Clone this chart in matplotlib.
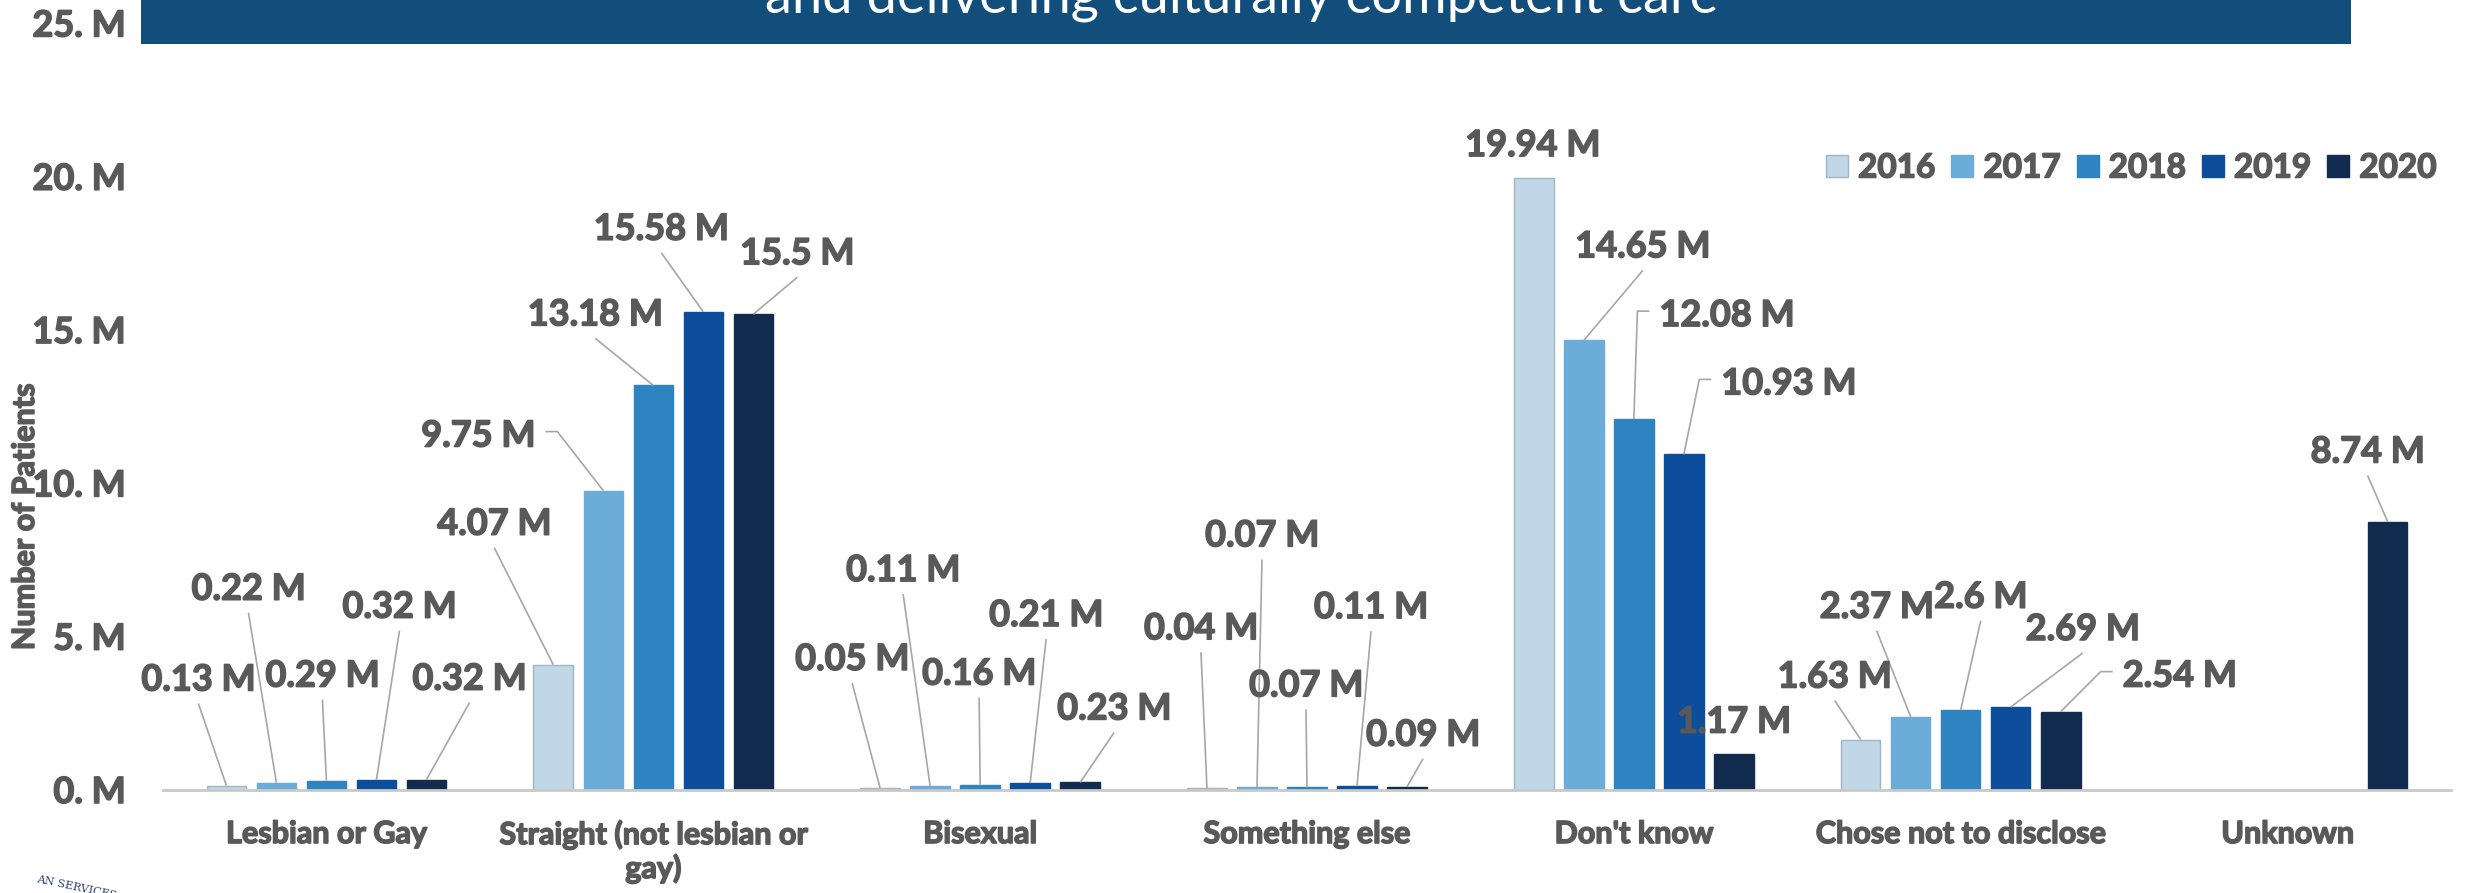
import numpy as np
import matplotlib
matplotlib.use('Agg')
import matplotlib.pyplot as plt
import matplotlib.patheffects as pe
from matplotlib.patches import Rectangle

plt.rcParams['font.family'] = ['Lato', 'DejaVu Sans']

categories = ['Lesbian or Gay', 'Straight (not lesbian or\ngay)', 'Bisexual',
              'Something else', "Don't know", 'Chose not to disclose', 'Unknown']
years = ['2016', '2017', '2018', '2019', '2020']

# millions of patients per year (None = no bar / no label)
v2016 = [0.13, 4.07, 0.05, 0.04, 19.94, 1.63, None]
v2017 = [0.22, 9.75, 0.11, 0.07, 14.65, 2.37, None]
v2018 = [0.29, 13.18, 0.16, 0.07, 12.08, 2.6, None]
v2019 = [0.32, 15.58, 0.21, 0.11, 10.93, 2.69, None]
v2020 = [0.32, 15.5, 0.23, 0.09, 1.17, 2.54, 8.74]

yticks = [0, 5, 10, 15, 20, 25]
ytick_labels = ['0. M', '5. M', '10. M', '15. M', '20. M', '25. M']

banner_text = 'and delivering culturally competent care'

# where each data label sits, pixels from the top of its bar
off2016 = [(-28, 108), (-59, 143), (-28, 131), (-6, 162), (-1, 35), (-26, 65), None]
off2017 = [(-28, 196), (-125, 57), (-27, 218), (5, 254), (59, 96), (-34, 112), None]
off2018 = [(-4, 107), (-58, 73), (-1, 113), (-1, 104), (93, 106), (20, 115), None]
off2019 = [(23, 175), (-42, 85), (16, 170), (14, 181), (105, 73), (72, 80), None]
off2020 = [(43, 103), (44, 63), (34, 76), (16, 54), (0, 34), (119, 38), (-20, 72)]

series = [v2016, v2017, v2018, v2019, v2020]
offsets = [off2016, off2017, off2018, off2019, off2020]
colors = ['#c0d7e8', '#6badd8', '#2d84c1', '#0c4e9c', '#112c4e']
edges = ['#a3b4c2', '#6badd8', '#2d84c1', '#0c4e9c', '#112c4e']

GRAY = '#595959'
heavy = [pe.withStroke(linewidth=1.1, foreground=GRAY)]
W, H = 2466, 893

fig = plt.figure(figsize=(W / 100, H / 100), dpi=100)
ax = fig.add_axes([163 / W, 1 - 789.5 / H, 2288 / W, (789.5 - 23) / H])

x = np.arange(len(categories))
width = 0.121
step = 0.153

for i, (yr, vals) in enumerate(zip(years, series)):
    h = [np.nan if v is None else v for v in vals]
    ax.bar(x + (i - 2) * step, h, width, color=colors[i], edgecolor=edges[i],
           linewidth=1, label=yr, zorder=2)

ax.set_xlim(-0.5, 6.5)
ax.set_ylim(0, 25)
ax.set_yticks(yticks)
ax.set_yticklabels(ytick_labels)
ax.set_xticks(x)
ax.set_xticklabels(categories, linespacing=1.2)
for lab in ax.get_yticklabels():
    lab.set_fontsize(26)
    lab.set_fontweight('bold')
    lab.set_color(GRAY)
    lab.set_path_effects(heavy)
for lab in ax.get_xticklabels():
    lab.set_fontsize(22)
    lab.set_fontweight('bold')
    lab.set_color(GRAY)
    lab.set_path_effects(heavy)
ax.tick_params(axis='y', length=0, pad=27)
ax.tick_params(axis='x', length=0, pad=22)
for s in ['top', 'right', 'left']:
    ax.spines[s].set_visible(False)
ax.spines['bottom'].set_color('#c9c9c9')
ax.spines['bottom'].set_linewidth(2)
ax.spines['bottom'].set_zorder(3)

fig.text(25 / W, 1 - 517 / H, 'Number of Patients', rotation=90, ha='center',
         va='center', fontsize=22, fontweight='bold', color=GRAY, path_effects=heavy)

leg = fig.legend(loc='center left', bbox_to_anchor=(1826 / W, 1 - 168 / H), ncol=5,
                 frameon=False, fontsize=24, handlelength=0.66, handleheight=0.66,
                 handletextpad=0.3, columnspacing=0.48, borderpad=0, borderaxespad=0)
for t in leg.get_texts():
    t.set_color(GRAY)
    t.set_fontweight('bold')
    t.set_path_effects(heavy)

# data labels with leader lines
fig.canvas.draw()
renderer = fig.canvas.get_renderer()
to_data = ax.transData.inverted()
half_cap = 13
for i, vals in enumerate(series):
    for j, v in enumerate(vals):
        if v is None:
            continue
        bx, by = ax.transData.transform((x[j] + (i - 2) * step, v))
        dx, dy = offsets[i][j]
        cx, cy = bx + dx, by + dy
        t = ax.text(*to_data.transform((cx, cy - half_cap)), f'{v:g} M', ha='center',
                    va='baseline', fontsize=26, fontweight='bold', color=GRAY,
                    zorder=4, clip_on=False, path_effects=heavy)
        half = t.get_window_extent(renderer).width / 2
        if abs(dx) > half + 20:
            sgn = np.sign(dx)
            sx, sy = cx - sgn * (half + 10), cy + 2
            pts = [(sx, sy), (sx - sgn * 12, sy), (bx, by)]
        elif dy - 26 > 15:
            pts = [(cx, cy - 26), (bx, by)]
        else:
            continue
        dp = to_data.transform(pts)
        ax.plot(dp[:, 0], dp[:, 1], color='#a6a6a6', lw=1.2, zorder=3,
                clip_on=False, solid_capstyle='butt')

# slide title banner, cut off by the screenshot
fig.add_artist(Rectangle((141 / W, 1 - 44 / H), 2210 / W, 44 / H + 0.01,
                         transform=fig.transFigure, facecolor='#114e7b',
                         edgecolor='none', zorder=10))
fig.text(1242 / W, 1 - 13 / H, banner_text, ha='center', va='baseline',
         fontsize=39, color='white', zorder=11)

fig.text(36 / W, 1 - 888 / H, 'AN SERVICES', fontsize=8, rotation=-12,
         color='#2a3f6b', family='DejaVu Serif', va='center')

fig.savefig('out.png', dpi=100, facecolor='white')
